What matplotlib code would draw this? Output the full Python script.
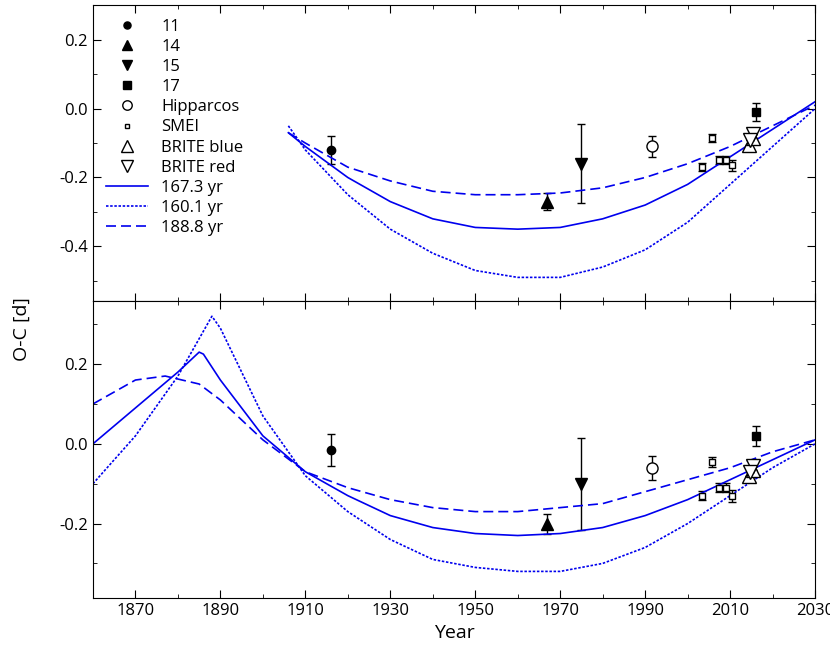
import matplotlib
matplotlib.use("Agg")
import matplotlib.pyplot as plt
from matplotlib.ticker import MultipleLocator
from matplotlib.lines import Line2D

plt.rcParams["font.family"] = "Open Sans"
plt.rcParams["font.size"] = 12

# model curves
top_yr = [1906, 1910, 1920, 1930, 1940, 1950, 1960, 1970, 1980, 1990, 2000, 2010, 2020, 2030]
top_p1 = [-0.07, -0.11, -0.20, -0.27, -0.32, -0.345, -0.35, -0.345, -0.32, -0.28, -0.22, -0.14, -0.06, 0.02]
top_p2 = [-0.05, -0.12, -0.25, -0.35, -0.42, -0.47, -0.49, -0.49, -0.46, -0.41, -0.33, -0.22, -0.11, 0.0]
top_p3 = [-0.07, -0.10, -0.17, -0.21, -0.24, -0.25, -0.25, -0.245, -0.23, -0.20, -0.16, -0.11, -0.05, 0.01]

bot_yr1 = [1860, 1870, 1880, 1885, 1886, 1890, 1900, 1910, 1920, 1930, 1940, 1950, 1960, 1970, 1980, 1990, 2000, 2010, 2020, 2030]
bot_p1 = [0.0, 0.09, 0.18, 0.23, 0.225, 0.16, 0.02, -0.07, -0.13, -0.18, -0.21, -0.225, -0.23, -0.225, -0.21, -0.18, -0.14, -0.09, -0.04, 0.01]
bot_yr2 = [1860, 1870, 1880, 1888, 1890, 1900, 1910, 1920, 1930, 1940, 1950, 1960, 1970, 1980, 1990, 2000, 2010, 2020, 2030]
bot_p2 = [-0.10, 0.02, 0.17, 0.32, 0.29, 0.07, -0.08, -0.17, -0.24, -0.29, -0.31, -0.32, -0.32, -0.30, -0.26, -0.20, -0.13, -0.06, 0.0]
bot_yr3 = [1860, 1870, 1877, 1885, 1890, 1900, 1910, 1920, 1930, 1940, 1950, 1960, 1970, 1980, 1990, 2000, 2010, 2020, 2030]
bot_p3 = [0.10, 0.16, 0.17, 0.15, 0.11, 0.01, -0.07, -0.11, -0.14, -0.16, -0.17, -0.17, -0.16, -0.15, -0.12, -0.09, -0.06, -0.02, 0.01]

# observations
obs_names = ["11", "14", "15", "17", "Hipparcos", "SMEI", "BRITE blue", "BRITE red"]
obs_markers = ["o", "^", "v", "s", "o", "s", "^", "v"]
obs_sizes = [6, 8, 9, 6, 8, 4, 10, 10]
obs_filled = [True, True, True, True, False, False, False, False]
obs_years = [[1916], [1967], [1975], [2016], [1991.5],
             [2003.5, 2005.8, 2007.5, 2009, 2010.5], [2014.5, 2015.5], [2015.5, 2014.8]]
obs_top = [[-0.12], [-0.27], [-0.16], [-0.01], [-0.11],
           [-0.17, -0.085, -0.15, -0.15, -0.165], [-0.105, -0.085], [-0.075, -0.09]]
obs_bot = [[-0.015], [-0.20], [-0.10], [0.02], [-0.06],
           [-0.13, -0.045, -0.11, -0.11, -0.13], [-0.08, -0.065], [-0.055, -0.07]]
obs_err = [[0.04], [0.025], [0.115], [0.025], [0.03],
           [0.012, 0.012, 0.012, 0.012, 0.015], [0, 0], [0, 0]]

fig, (ax1, ax2) = plt.subplots(2, 1, sharex=True, figsize=(8.3, 6.59), dpi=100)
fig.subplots_adjust(left=0.112, right=0.982, top=0.992, bottom=0.093, hspace=0)

blue = "#0000ee"
handles = []
for ax, vals in ((ax1, obs_top), (ax2, obs_bot)):
    for name, m, s, f, x, y, e in zip(obs_names, obs_markers, obs_sizes, obs_filled, obs_years, vals, obs_err):
        fc = "black" if f else "white"
        ax.errorbar(x, y, yerr=e, fmt=m, ms=s, color="black", mfc=fc,
                    mec="black", ecolor="black", elinewidth=1, capsize=3, lw=0)
        if ax is ax1:
            handles.append(Line2D([], [], marker=m, ms=s * 0.85, mfc=fc, mec="black", ls="none", label=name))

styles = ["-", (0, (1.5, 1)), (0, (6, 3))]
labels = ["167.3 yr", "160.1 yr", "188.8 yr"]
for yv, st, lb in zip((top_p1, top_p2, top_p3), styles, labels):
    ax1.plot(top_yr, yv, color=blue, lw=1.2, ls=st)
    handles.append(Line2D([], [], color=blue, lw=1.2, ls=st, label=lb))
for xv, yv, st in zip((bot_yr1, bot_yr2, bot_yr3), (bot_p1, bot_p2, bot_p3), styles):
    ax2.plot(xv, yv, color=blue, lw=1.2, ls=st)

ax1.set_ylim(-0.56, 0.30)
ax2.set_ylim(-0.386, 0.357)
ax2.set_xlim(1860, 2030)
ax2.set_xticks(range(1870, 2031, 20))
ax2.xaxis.set_minor_locator(MultipleLocator(10))
for ax in (ax1, ax2):
    ax.yaxis.set_major_locator(MultipleLocator(0.2))
    ax.yaxis.set_minor_locator(MultipleLocator(0.1))
    ax.yaxis.set_major_formatter(matplotlib.ticker.FormatStrFormatter("%.1f"))
    ax.tick_params(which="both", direction="in", top=True, right=True, labelsize=12)
    ax.tick_params(which="major", length=6)
    ax.tick_params(which="minor", length=3)
ax2.set_xlabel("Year", fontsize=14)
fig.text(0.015, 0.5, "O-C [d]", rotation=90, va="center", fontsize=14)

ax1.legend(handles=handles, loc="upper left", frameon=False, fontsize=12, handlelength=2.5,
           labelspacing=0.25, borderaxespad=0.4)

fig.savefig("out.png")
